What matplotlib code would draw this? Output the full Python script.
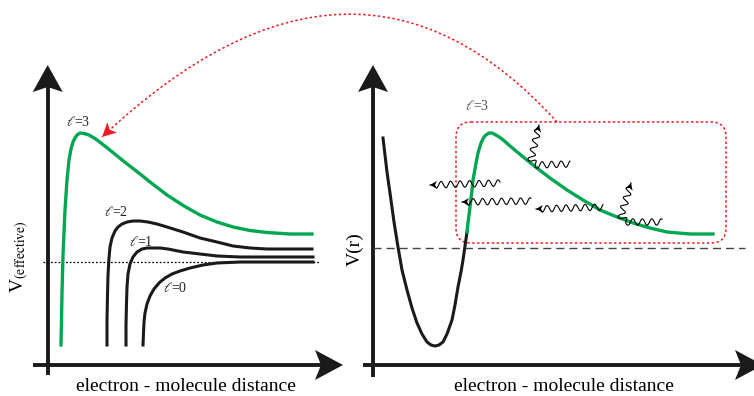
"""Schematic of effective potentials and shape resonance (two panels)"""

import numpy as np
import matplotlib.pyplot as plt
from matplotlib.path import Path
from matplotlib.patches import PathPatch, FancyBboxPatch

plt.rcParams['font.family'] = ['Liberation Serif', 'DejaVu Serif']
plt.rcParams['mathtext.fontset'] = 'stix'

GREEN = '#00A651'
RED = '#ED1C24'

# --- left panel curves (picture pixels, y down) ---
l3_x = [61, 61.5, 62, 63, 65, 67, 69, 71, 73, 75, 77, 80, 84, 89, 95, 101, 108, 116, 124, 133,
        142, 150, 167, 184, 200, 217, 233, 250, 267, 290, 312]
l3_y = [345, 320, 293, 255, 210, 180, 160, 149, 142, 138, 135, 133, 133.5, 135, 138.5, 143, 148.5, 155,
        161.5, 168.5, 175.5, 182, 195, 206, 215, 222, 227, 230.5, 232.5, 234, 234]

l2_x = [107, 107, 107.5, 108, 109, 110, 112, 115, 118, 122, 127, 133, 140, 148, 157, 167, 183, 200, 217,
        233, 250, 267, 290, 312]
l2_y = [345, 320, 295, 275, 258, 247, 238, 231, 227, 224, 222, 221, 221, 222, 224, 227, 232, 238, 242,
        246, 248, 249, 249, 249]

l1_x = [126, 126, 126.5, 127, 128, 130, 133, 137, 142, 147, 153, 160, 168, 183, 200, 217, 240, 267, 290, 313]
l1_y = [345, 325, 303, 287, 274, 264, 257, 252, 249, 248, 248, 248, 249, 252, 254, 256, 257, 257, 257, 257]

l0_x = [143, 143.5, 144, 145, 147, 150, 154, 159, 165, 172, 180, 190, 203, 217, 240, 267, 290, 313]
l0_y = [345, 333, 322, 313, 304, 296, 289, 283, 278, 274, 271, 268, 265, 263, 262, 262, 262, 262]

# --- right panel curve ---
well_x = [383, 385, 387, 390, 394, 398, 402, 407, 412, 417, 422, 427, 431, 435, 439, 443, 447, 452,
          455, 458, 461, 463, 465, 467]
well_y = [138, 155, 172, 193, 222, 247, 270, 290, 308, 323, 334, 342, 345, 346, 345, 342, 334, 320,
          305, 287, 272, 260, 246, 232]
barrier_x = [467, 468, 469, 470, 472, 473, 475, 476, 478, 481, 484, 486, 489, 492, 495, 500, 505, 510,
             516, 522, 533, 550, 567, 583, 600, 617, 633, 650, 667, 690, 713]
barrier_y = [232, 223, 215, 207, 190, 180, 169, 163, 153, 143, 137, 135, 133, 133, 134.5, 137.5, 141.5,
             146, 151, 156, 165, 178, 190, 200, 210, 217, 223, 228, 232, 234, 234]

# photons: list of base path points, first point is the arrow tip
photons = [
    [(430, 185), (500, 183)],
    [(462, 202), (531, 201)],
    [(536, 209), (603, 207)],
    [(539, 125), (531, 160), (536, 165), (570, 164)],
    [(631, 183), (621, 216), (626, 222), (662, 222)],
]

labels = [(r'$\ell$=3', 78, 122), (r'$\ell$=2', 116, 212), (r'$\ell$=1', 141, 242),
          (r'$\ell$=0', 175, 288)]
xlabel = 'electron - molecule distance'


def stealth(ax, tip, frm, length, half, notch, color='black', z=5):
    tip = np.asarray(tip, float)
    d = tip - np.asarray(frm, float)
    d /= np.hypot(*d)
    n = np.array([-d[1], d[0]])
    base = tip - length * d
    pts = [tip, base + half * n, tip - (length - notch) * d, base - half * n]
    ax.fill(*zip(*pts), color=color, lw=0, zorder=z)


def wiggle(pts, period=9.5, amp=3.2):
    pts = np.asarray(pts, float)
    seg = np.hypot(*np.diff(pts, axis=0).T)
    s = np.concatenate([[0], np.cumsum(seg)])
    t = np.linspace(0, s[-1], int(s[-1] * 6))
    x = np.interp(t, s, pts[:, 0])
    y = np.interp(t, s, pts[:, 1])
    k = np.ones(25) / 25
    dx = np.convolve(np.gradient(x), k, mode='same')
    dy = np.convolve(np.gradient(y), k, mode='same')
    dx[:12], dy[:12] = dx[12], dy[12]
    dx[-12:], dy[-12:] = dx[-13], dy[-13]
    nrm = np.hypot(dx, dy)
    w = amp * np.sin(2 * np.pi * (t - 4) / period) * (t > 4)
    return x - dy / nrm * w, y + dx / nrm * w


fig = plt.figure(figsize=(7.54, 3.96), dpi=100)
ax = fig.add_axes([0, 0, 1, 1])
ax.set_xlim(0, 754)
ax.set_ylim(396, 0)
ax.axis('off')

# axes with arrows
ax.plot([47.7, 47.7], [375, 85], color='#1a1a1a', lw=2.8, solid_capstyle='butt')
ax.plot([33, 325], [365, 365], color='#1a1a1a', lw=2.8, solid_capstyle='butt')
stealth(ax, (47.7, 65), (47.7, 100), 27, 15, 5, '#1a1a1a')
stealth(ax, (343, 365), (300, 365), 28, 15, 6, '#1a1a1a')
ax.plot([373, 373], [377, 85], color='#1a1a1a', lw=2.8, solid_capstyle='butt')
ax.plot([363, 745], [365, 365], color='#1a1a1a', lw=2.8, solid_capstyle='butt')
stealth(ax, (373, 65), (373, 100), 27, 15, 5, '#1a1a1a')
stealth(ax, (763, 365), (700, 365), 28, 15, 6, '#1a1a1a')

# left panel
ax.plot([43, 320], [262, 262], color='black', lw=0.9, dashes=(1.4, 1.6))
ax.plot(l0_x, l0_y, color='#1a1a1a', lw=2.2)
ax.plot(l1_x, l1_y, color='#1a1a1a', lw=2.2)
ax.plot(l2_x, l2_y, color='#1a1a1a', lw=2.2)
ax.plot(l3_x, l3_y, color=GREEN, lw=2.4)
for txt, x, y in labels:
    ax.text(x, y, txt, fontsize=10, ha='center', va='center', color='#222222')
ax.text(20, 257, r'V$_{\rm (effective)}$', fontsize=14, rotation=90, ha='center', va='center')
ax.text(186, 391, xlabel, fontsize=14, ha='center', va='baseline')

# right panel
ax.plot([373, 745], [248, 248], color='#444444', lw=1.0, dashes=(5.8, 3.6))
box = FancyBboxPatch((456, 122), 270, 121, boxstyle='round,pad=0,rounding_size=15',
                     fill=False, edgecolor=RED, lw=1.1, linestyle=(0, (1.6, 1.6)), zorder=2)
ax.add_patch(box)
ax.plot(well_x, well_y, color='#1a1a1a', lw=2.2, zorder=3)
ax.plot(barrier_x, barrier_y, color=GREEN, lw=2.4, zorder=3)
ax.text(477, 106, r'$\ell$=3', fontsize=10, ha='center', va='center', color='#555555')
ax.text(355, 249, 'V(r)', fontsize=14, rotation=90, ha='center', va='center')
ax.text(564, 391, xlabel, fontsize=14, ha='center', va='baseline')

for ph in photons:
    wx, wy = wiggle(ph)
    ax.plot(wx, wy, color='black', lw=0.8, zorder=4)
    stealth(ax, ph[0], ph[1], 7, 3.8, 2, 'black', z=5)

# red dotted arc with arrow head
arc_start, arc_ctrl, arc_end = (557, 122), (355, -101), (102, 137)
arc = Path([arc_start, arc_ctrl, arc_end], [Path.MOVETO, Path.CURVE3, Path.CURVE3])
ax.add_patch(PathPatch(arc, fill=False, edgecolor=RED, lw=1.1, linestyle=(0, (1.6, 1.6)), zorder=2))
stealth(ax, arc_end, arc_ctrl, 14, 7, 3.5, RED)

plt.savefig('out.png', dpi=100)
